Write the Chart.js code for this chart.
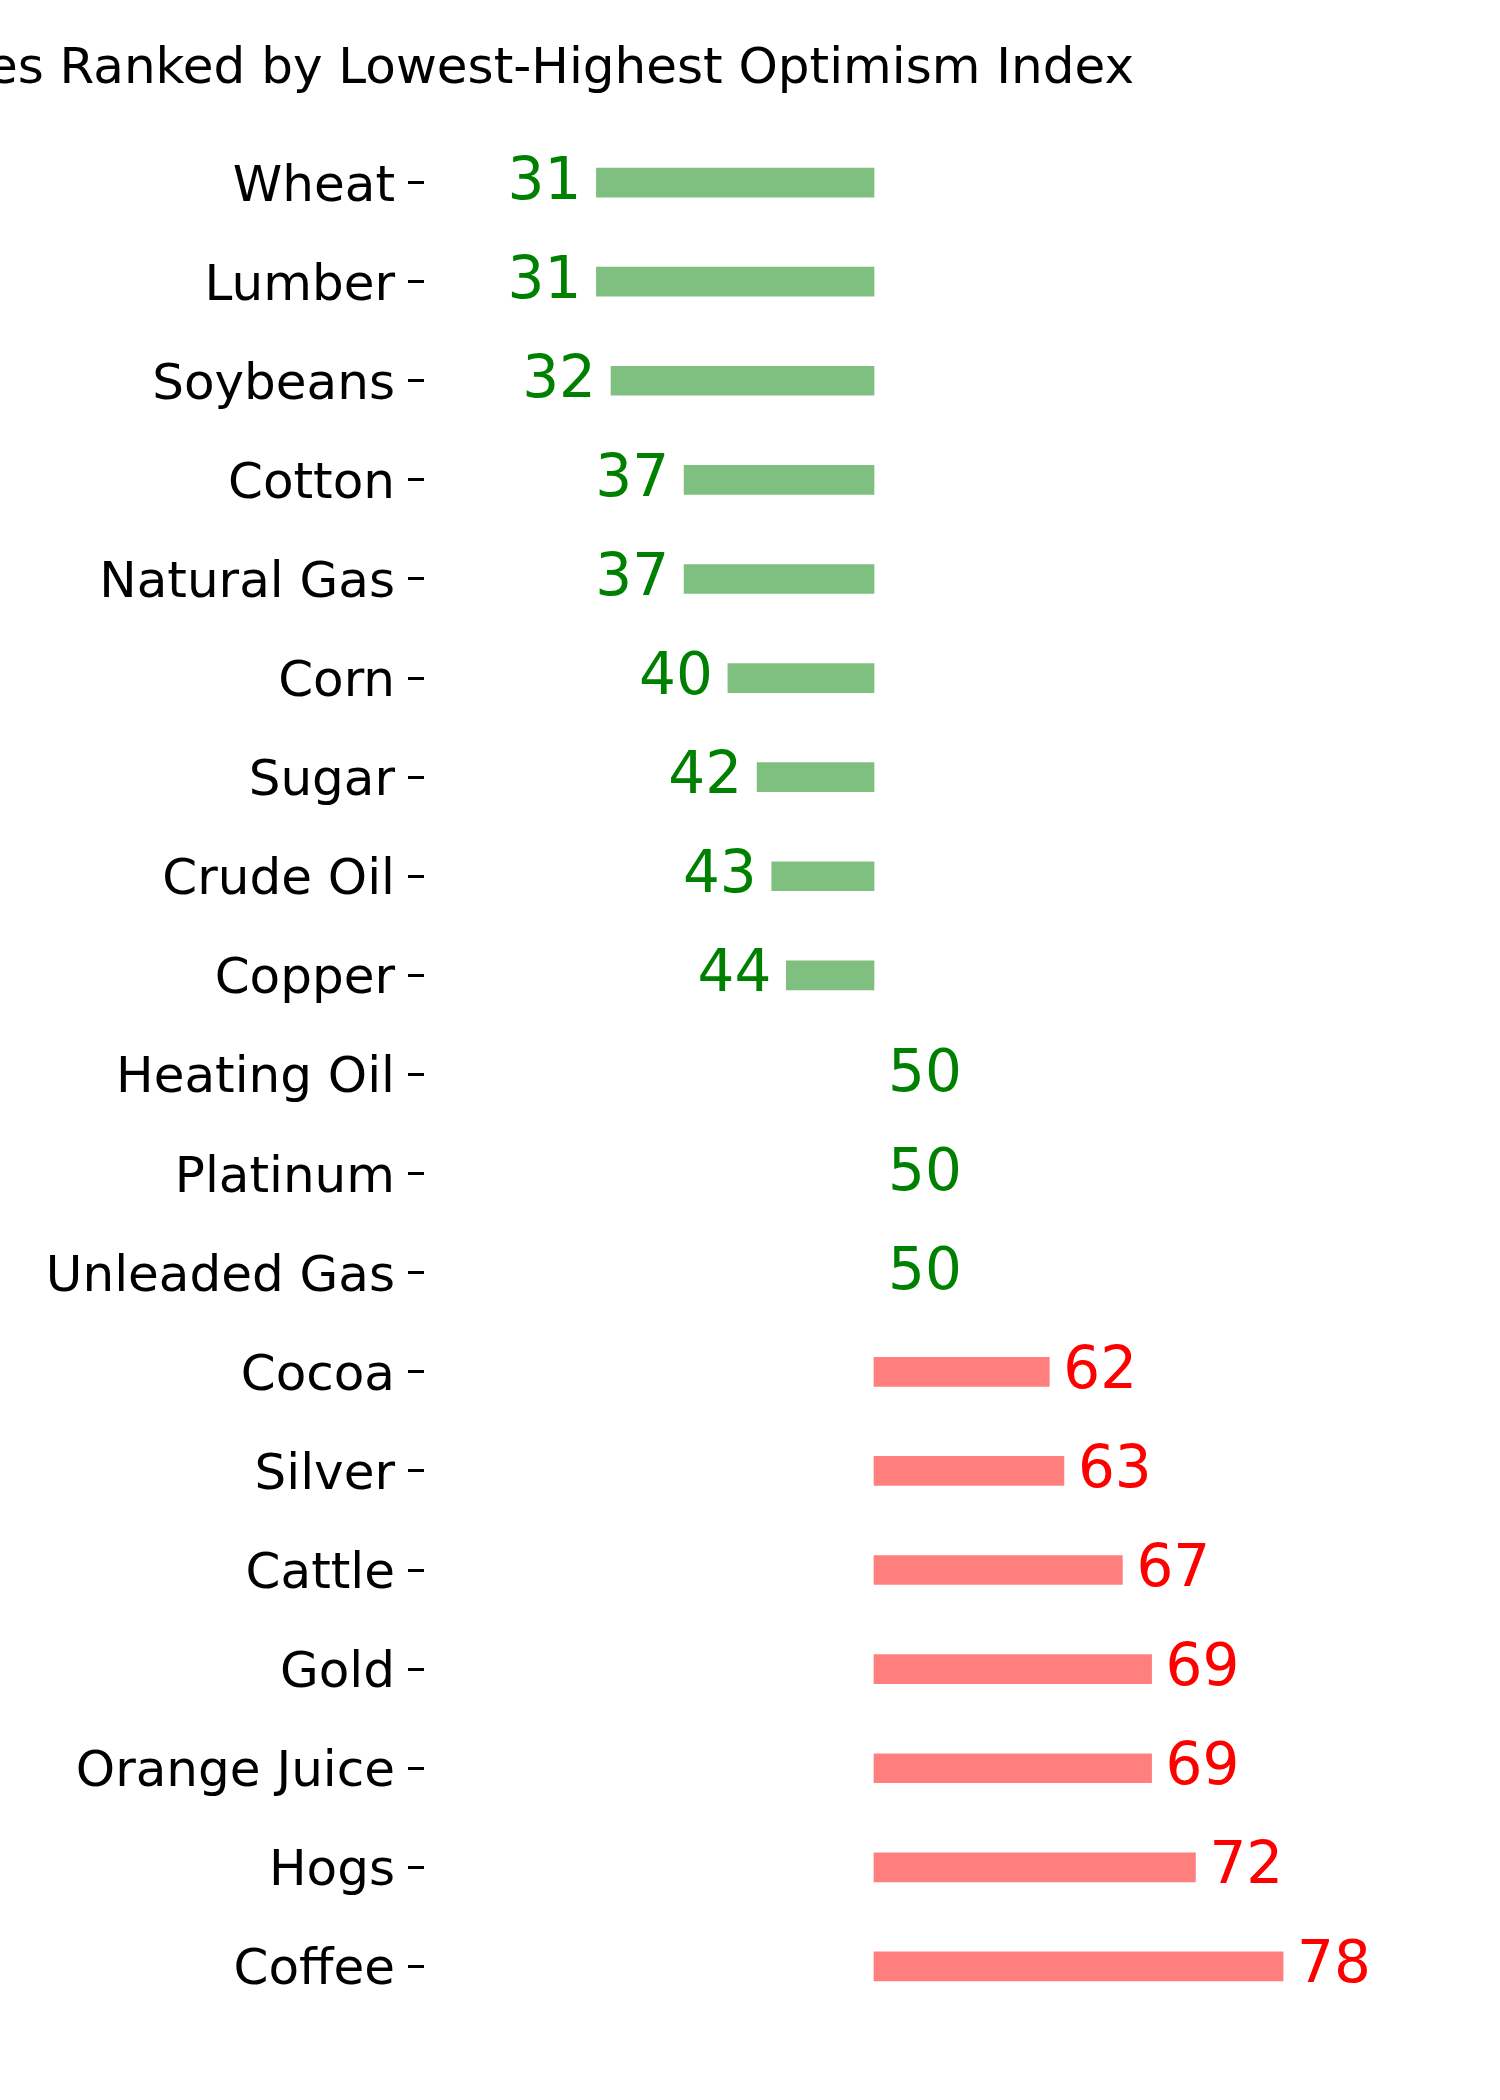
<!DOCTYPE html>
<html>
<head>
<meta charset="utf-8">
<script src="https://cdn.jsdelivr.net/npm/chart.js@4.4.1/dist/chart.umd.min.js"></script>
<style>
    html, body { margin: 0; padding: 0; background: #ffffff; }
    #wrap { width: 1500px; height: 2100px; }
</style>
</head>
<body>
<div id="wrap"><canvas id="optimismChart" width="1500" height="2100"></canvas></div>
<script>
const commodities = ['Wheat', 'Lumber', 'Soybeans', 'Cotton', 'Natural Gas', 'Corn', 'Sugar', 'Crude Oil', 'Copper',
    'Heating Oil', 'Platinum', 'Unleaded Gas', 'Cocoa', 'Silver', 'Cattle', 'Gold', 'Orange Juice', 'Hogs', 'Coffee'];
const optimismIndex = [31, 31, 32, 37, 37, 40, 42, 43, 44, 50, 50, 50, 62, 63, 67, 69, 69, 72, 78];
const neutralLevel = 50;
const chartTitle = 'Commodities Ranked by Lowest-Highest Optimism Index';

const FONT = '"DejaVu Sans", sans-serif';

function barColor(v) {
    if (v === neutralLevel) return 'rgba(0,0,0,0)';
    return v < neutralLevel ? 'rgba(0,128,0,0.5)' : 'rgba(255,0,0,0.5)';
}

// value labels beside each bar + the (left-clipped) title
const valueLabels = {
    id: 'valueLabels',
    afterDatasetsDraw(chart) {
        const ctx = chart.ctx;
        const meta = chart.getDatasetMeta(0);
        ctx.save();
        ctx.font = '58px ' + FONT;
        ctx.textBaseline = 'alphabetic';
        meta.data.forEach(function (bar, i) {
            const v = optimismIndex[i];
            ctx.fillStyle = v <= neutralLevel ? '#008000' : '#ff0000';
            if (v < neutralLevel) {
                ctx.textAlign = 'right';
                ctx.fillText(String(v), bar.x - 15, bar.y + 16);
            } else {
                ctx.textAlign = 'left';
                ctx.fillText(String(v), bar.x + 14, bar.y + 16);
            }
        });
        ctx.restore();
    },
    afterDraw(chart) {
        const ctx = chart.ctx;
        ctx.save();
        ctx.font = '50px ' + FONT;
        ctx.fillStyle = '#000000';
        ctx.textAlign = 'right';
        ctx.textBaseline = 'alphabetic';
        ctx.fillText(chartTitle, 1134, 83);
        ctx.restore();
    }
};

new Chart(document.getElementById('optimismChart'), {
    type: 'bar',
    data: {
        labels: commodities,
        datasets: [{
            data: optimismIndex,
            base: neutralLevel,
            backgroundColor: optimismIndex.map(barColor),
            borderWidth: 0,
            barThickness: 29
        }]
    },
    plugins: [valueLabels],
    options: {
        indexAxis: 'y',
        responsive: false,
        animation: false,
        layout: {
            padding: { top: 133, bottom: 84, left: 0, right: 176 }
        },
        plugins: {
            legend: { display: false },
            title: { display: false },
            tooltip: { enabled: false }
        },
        scales: {
            x: {
                display: false,
                min: 19.2,
                max: 80.8
            },
            y: {
                afterFit: function (scale) {
                    scale.width = 424;
                },
                border: { display: false },
                grid: {
                    offset: false,
                    drawOnChartArea: false,
                    drawTicks: true,
                    tickLength: 16,
                    tickWidth: 3,
                    tickColor: '#000000'
                },
                ticks: {
                    color: '#000000',
                    padding: 13,
                    labelOffset: 5,
                    font: { family: FONT, size: 50 }
                }
            }
        }
    }
});
</script>
</body>
</html>
